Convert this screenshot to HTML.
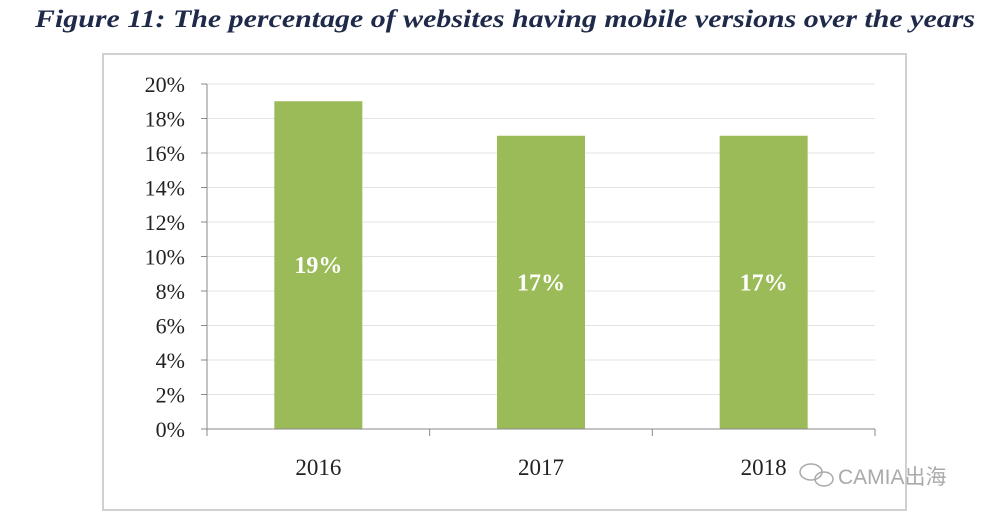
<!DOCTYPE html>
<html><head><meta charset="utf-8"><style>
body{margin:0;background:#fff;width:1000px;height:522px;overflow:hidden}
</style></head><body>
<svg width="1000" height="522" xmlns="http://www.w3.org/2000/svg">
<text x="35" y="27" textLength="940" lengthAdjust="spacingAndGlyphs" font-family="Liberation Serif, serif" font-style="italic" font-weight="bold" font-size="25" fill="#1f2a4a">Figure 11: The percentage of websites having mobile versions over the years</text>
<rect x="103" y="54" width="803" height="456" fill="#fff" stroke="#d0d0d0" stroke-width="2"/>
<g id="grid"></g><g id="bars"></g><g id="axes"></g>
<g fill="none" stroke="#aaa" stroke-width="1.5">
<ellipse cx="811" cy="472" rx="11" ry="8"/><ellipse cx="824" cy="479" rx="9" ry="7"/>
</g>
<text x="838" y="484" font-family="Liberation Sans, 'Noto Sans CJK SC', sans-serif" font-size="21" fill="#aaa">CAMIA出海</text>
</svg>
<script>
const categories=["2016","2017","2018"];
const values=[19,17,17];
const yTicks=[0,2,4,6,8,10,12,14,16,18,20];
const NS="http://www.w3.org/2000/svg";
const x0=207,x1=875,y0=429,y1=84,ymax=20;
const yS=v=>y0-(v/ymax)*(y0-y1);
const band=(x1-x0)/categories.length;
const xC=i=>x0+band*(i+0.5);
function mk(t,a,p){const e=document.createElementNS(NS,t);for(const k in a)e.setAttribute(k,a[k]);p.appendChild(e);return e;}
const G=document.getElementById('grid'),B=document.getElementById('bars'),A=document.getElementById('axes');
yTicks.forEach(v=>{
 const l=mk('line',{x1:x0,x2:x1,y1:yS(v),y2:yS(v),stroke:v?'#e3e3e3':'#888','stroke-width':1},G);
 
 
 const tk=mk('line',{x1:x0-6,x2:x0,y1:yS(v),y2:yS(v),stroke:'#888'},A);
 
 
 const t=mk('text',{x:x0-22,y:yS(v)+8,'text-anchor':'end','font-family':'Liberation Serif, serif','font-size':22,fill:'#222'},A);
 t.textContent=v+'%';
 
 
});
mk('line',{x1:x0,x2:x0,y1:y1,y2:y0,stroke:'#888'},A);
mk('line',{x1:x0,x2:x1,y1:y0,y2:y0,stroke:'#888'},A);
for(let i=0;i<=categories.length;i++){const tk=mk('line',{x1:x0+band*i,x2:x0+band*i,y1:y0,y2:y0+7,stroke:'#888'},A);
 
 }
const bw=88;
categories.forEach((c,i)=>{
 const r=mk('rect',{x:xC(i)-bw/2,y:yS(values[i]),width:bw,height:y0-yS(values[i]),fill:'#9bbb59'},B);
 
 
 const t=mk('text',{x:xC(i),y:(yS(values[i])+y0)/2+8,'text-anchor':'middle','font-family':'Liberation Serif, serif','font-weight':'bold','font-size':24,fill:'#fff'},B);
 t.textContent=values[i]+'%';
 
 
 const xl=mk('text',{x:xC(i),y:475,'text-anchor':'middle','font-family':'Liberation Serif, serif','font-size':23,fill:'#222'},A);
 xl.textContent=c;
 
 
});
</script>
</body></html>
